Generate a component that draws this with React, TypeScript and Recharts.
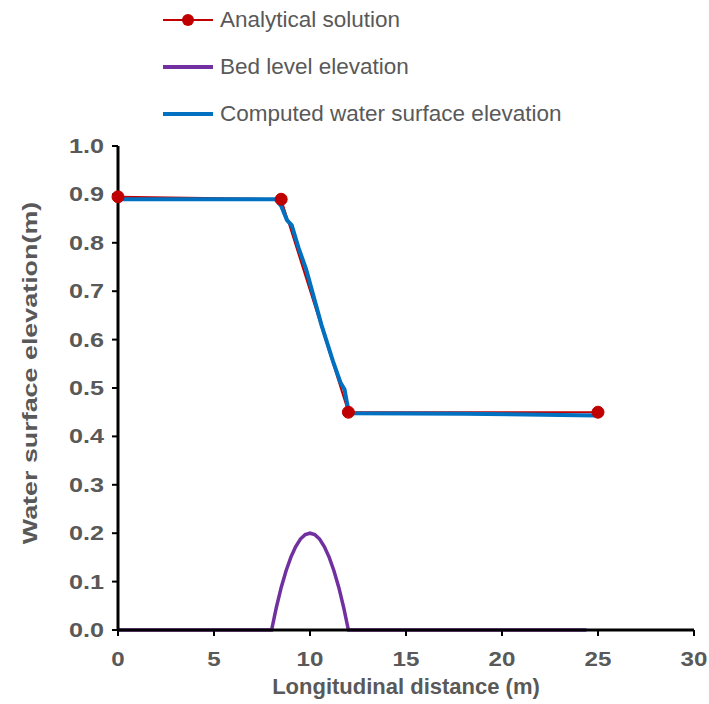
import { LineChart, Line, XAxis, YAxis } from 'recharts';

const FONT = '"Liberation Sans", Arial, sans-serif';
const GREY = '#595959';

// analytical solution (x in m, water level in m)
const analyticalX = [0, 8.5, 12, 25];
const analyticalY = [0.895, 0.89, 0.45, 0.45];

// bed profile with the hump between 8 m and 12 m
const bedX = [0, 8, 8.25, 8.5, 8.75, 9, 9.25, 9.5, 9.75, 10, 10.25, 10.5, 10.75, 11, 11.25, 11.5, 11.75, 12, 24.4];
const bedY = [0, 0, 0.047, 0.088, 0.122, 0.15, 0.172, 0.188, 0.197, 0.2, 0.197, 0.188, 0.172, 0.15, 0.122, 0.088, 0.047, 0, 0];

// computed water surface
const computedX = [0, 8.2, 8.5, 8.8, 9.05, 9.4, 9.8, 10.6, 11.2, 11.6, 11.8, 11.9, 12.0, 12.2, 18, 24.9];
const computedY = [0.89, 0.89, 0.876, 0.847, 0.836, 0.79, 0.745, 0.63, 0.555, 0.51, 0.497, 0.475, 0.455, 0.448, 0.447, 0.443];

const xTicks = [0, 5, 10, 15, 20, 25, 30];
const yTicks = [0, 0.1, 0.2, 0.3, 0.4, 0.5, 0.6, 0.7, 0.8, 0.9, 1.0];

const zip = (xs: number[], ys: number[]) => xs.map((x, i) => ({ x, y: ys[i] }));

const analytical = zip(analyticalX, analyticalY);
const bed = zip(bedX, bedY);
const computed = zip(computedX, computedY);

const legendItems = [
  { name: 'Analytical solution', color: '#C00000', width: 2, dot: true },
  { name: 'Bed level elevation', color: '#7030A0', width: 4, dot: false },
  { name: 'Computed water surface elevation', color: '#0070C0', width: 4, dot: false },
];

// tick text is a little wider than plain bold Arial
function XTick(props: any) {
  const { x, y, payload } = props;
  return (
    <text
      transform={`translate(${x}, ${y + 22}) scale(1.15, 1)`}
      textAnchor="middle"
      fill={GREY}
      fontSize={21}
      fontWeight={700}
      fontFamily={FONT}
    >
      {payload.value}
    </text>
  );
}

function YTick(props: any) {
  const { x, y, payload } = props;
  return (
    <text
      transform={`translate(${x}, ${y + 7}) scale(1.2, 1)`}
      textAnchor="end"
      fill={GREY}
      fontSize={21}
      fontWeight={700}
      fontFamily={FONT}
    >
      {Number(payload.value).toFixed(1)}
    </text>
  );
}

function YTitle(props: any) {
  const { viewBox } = props;
  const cy = viewBox.y + viewBox.height / 2 - 15;
  return (
    <text
      transform={`translate(30, ${cy}) rotate(-90) scale(1.28, 1)`}
      textAnchor="middle"
      dominantBaseline="central"
      fill={GREY}
      fontSize={21}
      fontWeight={700}
      fontFamily={FONT}
    >
      Water surface elevation(m)
    </text>
  );
}

export default function App() {
  return (
    <div style={{ position: 'absolute', left: 0, top: 0, width: 709, height: 704, background: '#fff' }}>
      <LineChart width={709} height={704} margin={{ top: 146, right: 15, bottom: 14, left: 58 }}>
        <XAxis
          type="number"
          dataKey="x"
          domain={[0, 30]}
          ticks={xTicks}
          height={60}
          axisLine={{ stroke: '#000', strokeWidth: 3 }}
          tickLine={{ stroke: '#000', strokeWidth: 2 }}
          tickSize={6}
          tickMargin={8}
          tick={<XTick />}
          label={{
            value: 'Longitudinal distance (m)',
            position: 'insideBottom',
            offset: -4,
            fill: GREY,
            fontSize: 22,
            fontWeight: 700,
            fontFamily: FONT,
          }}
        />
        <YAxis
          type="number"
          dataKey="y"
          domain={[0, 1]}
          ticks={yTicks}
          width={60}
          axisLine={{ stroke: '#000', strokeWidth: 3 }}
          tickLine={{ stroke: '#000', strokeWidth: 2 }}
          tickSize={6}
          tickMargin={8}
          tick={<YTick />}
          label={<YTitle />}
        />
        <Line
          data={bed}
          dataKey="y"
          type="linear"
          stroke="#7030A0"
          strokeWidth={3.5}
          dot={false}
          isAnimationActive={false}
        />
        <Line
          data={analytical}
          dataKey="y"
          type="linear"
          stroke="#C00000"
          strokeWidth={2}
          dot={{ r: 6, fill: '#C00000', stroke: '#C00000', strokeWidth: 1 }}
          isAnimationActive={false}
        />
        <Line
          data={computed}
          dataKey="y"
          type="linear"
          stroke="#0070C0"
          strokeWidth={4}
          dot={false}
          isAnimationActive={false}
        />
      </LineChart>
      <div style={{ position: 'absolute', left: 160, top: -4, fontFamily: FONT }}>
        {legendItems.map((item) => (
          <div key={item.name} style={{ display: 'flex', alignItems: 'center', height: 47 }}>
            <svg width={56} height={20}>
              <line x1={3} y1={10} x2={53} y2={10} stroke={item.color} strokeWidth={item.width} />
              {item.dot && <circle cx={28} cy={10} r={6} fill={item.color} />}
            </svg>
            <span style={{ marginLeft: 4, fontSize: 22.5, color: GREY }}>{item.name}</span>
          </div>
        ))}
      </div>
    </div>
  );
}
